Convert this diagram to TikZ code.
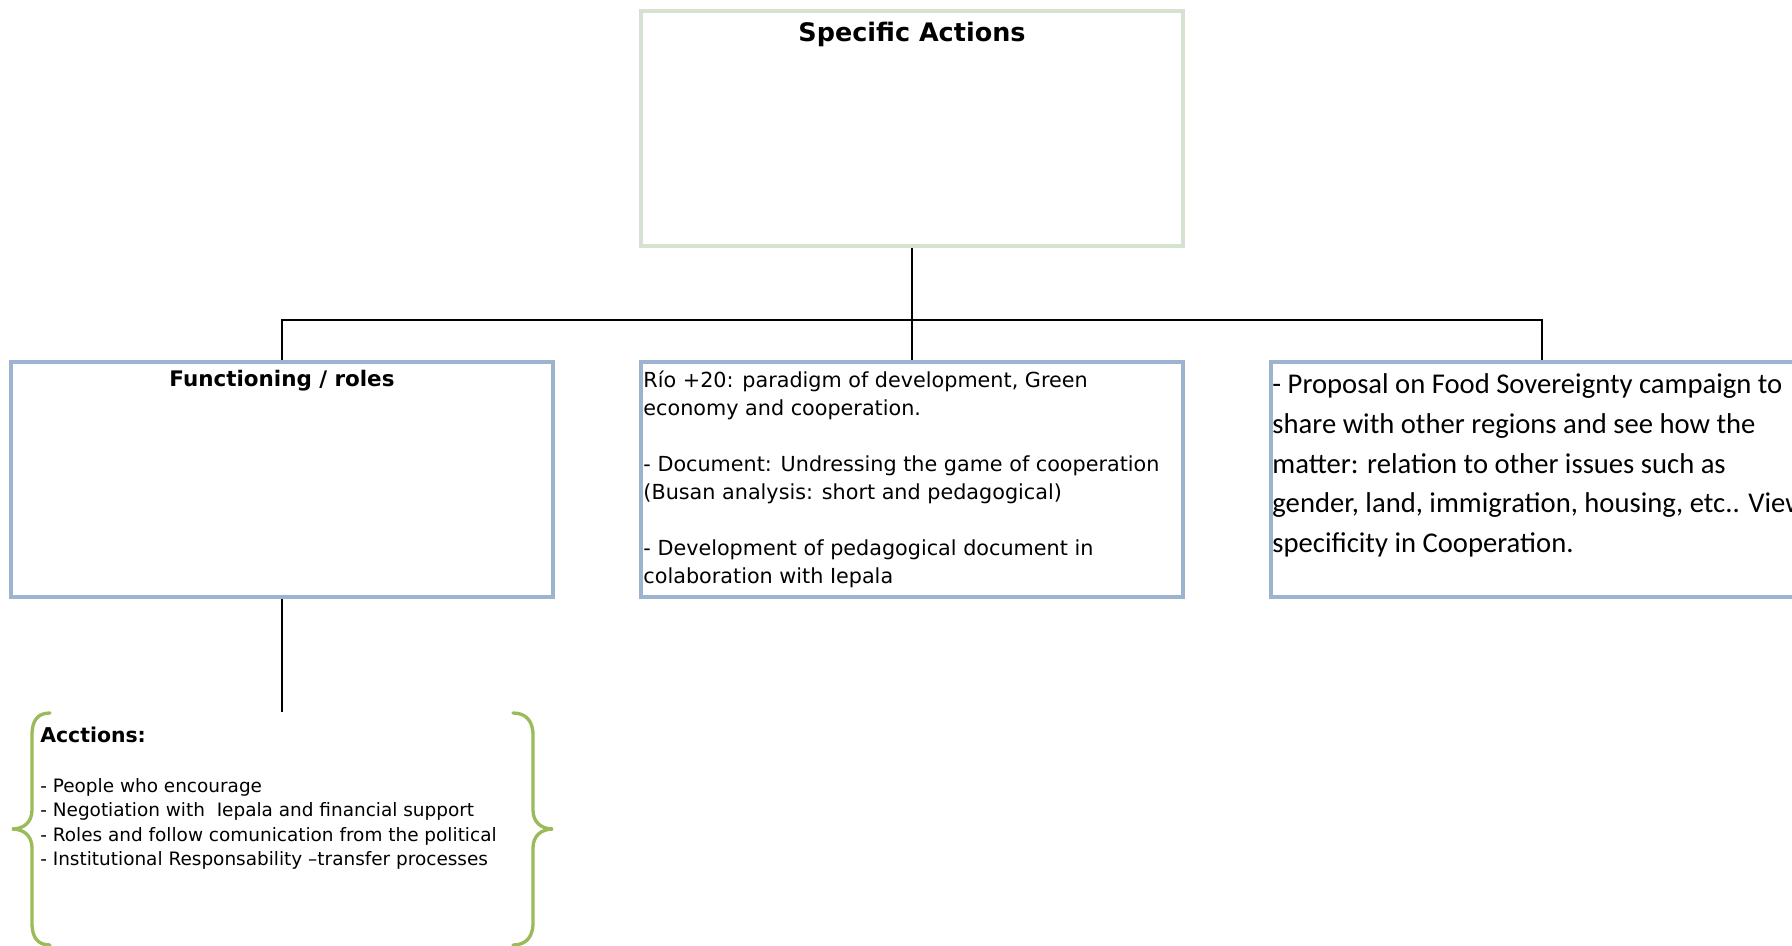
\documentclass[tikz,border=0pt]{standalone}
\usepackage{fontspec}
\usepackage{xcolor}
\usepackage{tikz}
\usetikzlibrary{positioning,calc}
\setmainfont{DejaVu Sans}
\newfontfamily\calibrifont{Carlito}
\definecolor{boxblue}{RGB}{157,180,208}
\definecolor{boxgreen}{RGB}{214,226,208}
\definecolor{braceolive}{RGB}{155,187,89}

\begin{document}
\begin{tikzpicture}[x=0.02cm, y=-0.02cm,
        topbox/.style={draw=boxgreen, line width=2.2pt, fill=white, minimum width=10.84cm, minimum height=4.7cm, inner sep=0pt},
        subbox/.style={draw=boxblue, line width=2.2pt, fill=white, minimum width=10.84cm, minimum height=4.7cm, inner sep=0pt},
        link/.style={draw=black, line width=0.8pt},
        curly/.style={draw=braceolive, line width=1.9pt, line cap=round},
        heading/.style={font=\bfseries\fontsize{12.2}{14}\selectfont, inner sep=0pt},
        bodytext/.style={font=\fontsize{11.8}{16}\selectfont, align=left, inner sep=0pt, anchor=north west},
        smalltext/.style={font=\fontsize{10.5}{14}\selectfont, align=left, inner sep=0pt, anchor=north west}
    ]
    \useasboundingbox (0,0) rectangle (1792,946);
    % --- Boxes ---
    \node[topbox] (top) at (912, 128.5) {};
    \node[subbox] (func) at (282, 479.5) {};
    \node[subbox] (rio) at (912, 479.5) {};
    \node[subbox] (food) at (1542, 479.5) {};
    \node[minimum width=10.84cm, minimum height=4.68cm, inner sep=0pt] (acts) at (282, 829) {};
    % --- Connectors ---
    \coordinate (bar) at (912, 320);
    \draw[link] (top.south) -- (bar);
    \draw[link] (func.north) |- (bar) -| (food.north);
    \draw[link] (bar) -- (rio.north);
    \draw[link] (func.south) -- (acts.north);
    % --- Texts ---
    \node[heading, font=\bfseries\fontsize{14.5}{16}\selectfont] (toptitle) at ($(top.north)+(0,25)$) {Specific Actions};
    \node[heading] (functitle) at ($(func.north)+(0,21)$) {Functioning / roles};
    \node[bodytext] (riotext) at ($(rio.north west)+(4,10)$) {R\'io +20: paradigm of development, Green\\economy and cooperation.\\[16pt]- Document: Undressing the game of cooperation\\(Busan analysis: short and pedagogical)\\[16pt]- Development of pedagogical document in\\colaboration with Iepala};
    \node[bodytext, font=\calibrifont\fontsize{16.3}{22.7}\selectfont] (foodtext) at ($(food.north west)+(3,13)$) {- Proposal on Food Sovereignty campaign to\\share with other regions and see how the\\matter: relation to other issues such as\\gender, land, immigration, housing, etc.. View\\specificity in Cooperation.};
    \node[smalltext] (actstext) at (40, 727) {{\bfseries\fontsize{11.6}{14}\selectfont Acctions:}\\[14pt]- People who encourage\\- Negotiation with~ Iepala and financial support\\- Roles and follow comunication from the political\\- Institutional Responsability --transfer processes};
    % --- Braces ---
    \draw[curly] (50,713) .. controls (38,713) and (32,720) .. (32,735) -- (32,810) .. controls (32,822) and (24,829) .. (12,829) .. controls (24,829) and (32,836) .. (32,848) -- (32,923) .. controls (32,938) and (38,945) .. (50,945);
    \draw[curly] (513,713) .. controls (525,713) and (533,720) .. (533,735) -- (533,810) .. controls (533,822) and (541,829) .. (553,829) .. controls (541,829) and (533,836) .. (533,848) -- (533,923) .. controls (533,938) and (525,945) .. (513,945);
\end{tikzpicture}
\end{document}
